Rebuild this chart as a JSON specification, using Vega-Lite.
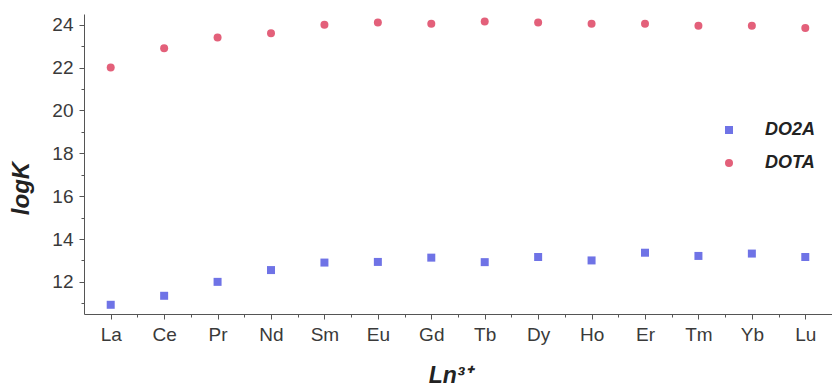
{
  "$schema": "https://vega.github.io/schema/vega-lite/v6.json",
  "width": 748,
  "height": 300,
  "autosize": "none",
  "padding": {"left": 84, "top": 14, "right": 0, "bottom": 72},
  "background": "white",
  "config": {
    "view": {"stroke": null},
    "font": "Liberation Sans",
    "axis": {
      "domainColor": "#555555",
      "tickColor": "#555555",
      "labelColor": "#3a3a3a",
      "titleColor": "#222222",
      "labelFont": "Liberation Sans",
      "titleFont": "Liberation Sans",
      "grid": false
    }
  },
  "data": {
    "values": [
      {"ln": "La", "i": 1, "series": "DOTA", "logK": 22.0},
      {"ln": "Ce", "i": 2, "series": "DOTA", "logK": 22.9},
      {"ln": "Pr", "i": 3, "series": "DOTA", "logK": 23.4},
      {"ln": "Nd", "i": 4, "series": "DOTA", "logK": 23.6},
      {"ln": "Sm", "i": 5, "series": "DOTA", "logK": 24.0},
      {"ln": "Eu", "i": 6, "series": "DOTA", "logK": 24.1},
      {"ln": "Gd", "i": 7, "series": "DOTA", "logK": 24.05},
      {"ln": "Tb", "i": 8, "series": "DOTA", "logK": 24.15},
      {"ln": "Dy", "i": 9, "series": "DOTA", "logK": 24.1},
      {"ln": "Ho", "i": 10, "series": "DOTA", "logK": 24.05},
      {"ln": "Er", "i": 11, "series": "DOTA", "logK": 24.05},
      {"ln": "Tm", "i": 12, "series": "DOTA", "logK": 23.95},
      {"ln": "Yb", "i": 13, "series": "DOTA", "logK": 23.95},
      {"ln": "Lu", "i": 14, "series": "DOTA", "logK": 23.85},
      {"ln": "La", "i": 1, "series": "DO2A", "logK": 10.93},
      {"ln": "Ce", "i": 2, "series": "DO2A", "logK": 11.35},
      {"ln": "Pr", "i": 3, "series": "DO2A", "logK": 12.0},
      {"ln": "Nd", "i": 4, "series": "DO2A", "logK": 12.55},
      {"ln": "Sm", "i": 5, "series": "DO2A", "logK": 12.9},
      {"ln": "Eu", "i": 6, "series": "DO2A", "logK": 12.93},
      {"ln": "Gd", "i": 7, "series": "DO2A", "logK": 13.13},
      {"ln": "Tb", "i": 8, "series": "DO2A", "logK": 12.92},
      {"ln": "Dy", "i": 9, "series": "DO2A", "logK": 13.16},
      {"ln": "Ho", "i": 10, "series": "DO2A", "logK": 13.0},
      {"ln": "Er", "i": 11, "series": "DO2A", "logK": 13.36},
      {"ln": "Tm", "i": 12, "series": "DO2A", "logK": 13.21},
      {"ln": "Yb", "i": 13, "series": "DO2A", "logK": 13.32},
      {"ln": "Lu", "i": 14, "series": "DO2A", "logK": 13.16}
    ]
  },
  "mark": {"type": "point", "filled": true, "size": 64, "opacity": 1},
  "encoding": {
    "x": {
      "field": "i",
      "type": "quantitative",
      "scale": {"domain": [0.5, 14.5], "nice": false, "zero": false},
      "axis": {
        "title": "Ln³⁺",
        "titleFontSize": 23,
        "titleFontWeight": "bold",
        "titleFontStyle": "italic",
        "titleY": 68,
        "titleX": 366,
        "titleBaseline": "alphabetic",
        "values": [1, 1.5, 2, 2.5, 3, 3.5, 4, 4.5, 5, 5.5, 6, 6.5, 7, 7.5, 8, 8.5, 9, 9.5, 10, 10.5, 11, 11.5, 12, 12.5, 13, 13.5, 14, 14.5],
        "labelExpr": "datum.value % 1 === 0 ? ['La','Ce','Pr','Nd','Sm','Eu','Gd','Tb','Dy','Ho','Er','Tm','Yb','Lu'][datum.value - 1] : ''",
        "tickSize": {"condition": {"test": "datum.value % 1 === 0", "value": 5}, "value": 3},
        "labelPadding": 6,
        "labelFontSize": 19,
        "labelFlush": false,
        "labelOverlap": false
      }
    },
    "y": {
      "field": "logK",
      "type": "quantitative",
      "scale": {"domain": [10.5, 24.5], "nice": false, "zero": false},
      "axis": {
        "title": "logK",
        "titleFontSize": 24,
        "titleFontWeight": "bold",
        "titleFontStyle": "italic",
        "titleAngle": -90,
        "titleX": -56,
        "titleY": 174,
        "titleAlign": "center",
        "titleBaseline": "alphabetic",
        "values": [11, 12, 13, 14, 15, 16, 17, 18, 19, 20, 21, 22, 23, 24],
        "labelExpr": "datum.value % 2 === 0 ? datum.value : ''",
        "tickSize": {"condition": {"test": "datum.value % 2 === 0", "value": 5}, "value": 3},
        "labelPadding": 6,
        "labelFontSize": 19,
        "labelFlush": false,
        "labelOverlap": false
      }
    },
    "color": {
      "field": "series",
      "type": "nominal",
      "scale": {"domain": ["DO2A", "DOTA"], "range": ["#6f73e6", "#e3607a"]},
      "legend": {
        "title": null,
        "orient": "none",
        "legendX": 636,
        "legendY": 107,
        "labelFontSize": 18,
        "labelFontWeight": "bold",
        "labelFontStyle": "italic",
        "labelColor": "#222222",
        "labelOffset": 27,
        "rowPadding": 15,
        "symbolSize": 64,
        "padding": 0
      }
    },
    "shape": {
      "field": "series",
      "type": "nominal",
      "scale": {"domain": ["DO2A", "DOTA"], "range": ["square", "circle"]}
    }
  }
}
